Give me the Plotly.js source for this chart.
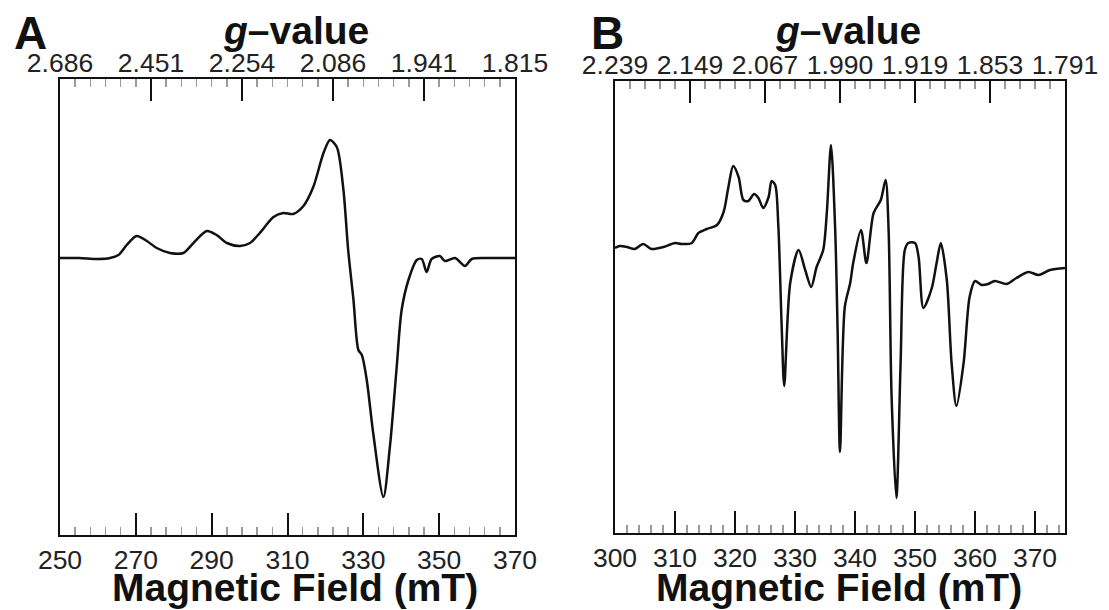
<!DOCTYPE html>
<html>
<head>
<meta charset="utf-8">
<script src="https://cdn.plot.ly/plotly-3.0.1.min.js"></script>
<style>html,body{margin:0;padding:0;background:#fff;}#chart{width:1109px;height:610px;}</style>
</head>
<body>
<div id="chart"></div>
<script>
// Panel A: field (mT) and EPR derivative intensity (arb. units)
const fieldA = [250,255,260,263.2,265.4,267.6,270.2,272.9,275.5,279,282.5,285.2,288.7,291.3,294,297.5,300.1,302.7,306.3,308.9,311.5,314.2,316.8,319.5,321.2,323,324.7,326.0,327.4,328.7,329.6,330.9,332.6,335.3,337.0,338.8,340.1,341.9,344.1,345.4,346.7,348,350.2,351.5,354.2,356.8,358.6,362,366,370];
const signalA = [0,0,-1,0,3,13,22,17,10,5,5,15,27,23,15,12,15,25,41,45,44,52,71,105,118,111,70,8,-42,-92,-97,-122,-175,-239,-189,-109,-52,-22,-2,-1,-14,-1,2,-3,0,-8,-1,0,0,0];

// Panel B
const fieldB = [300.0,300.8,302.0,303.3,304.7,306.1,308.1,310.0,311.1,312.8,313.9,315.3,317.0,318.1,318.9,319.7,320.6,321.4,322.2,323.2,323.9,324.7,325.6,326.1,326.7,327.2,327.8,328.2,329.2,330.6,331.7,332.7,333.6,334.7,335.3,336.0,336.7,337.1,337.5,338.3,339.2,339.7,341.0,341.9,343.1,344.3,345.1,345.6,346.1,346.9,347.6,348.3,348.9,350.0,350.6,351.4,352.8,353.6,354.3,355.3,356.1,356.9,358.1,359.1,360.0,361.1,362.2,363.3,365.3,366.9,368.9,370.6,372.5,375.0];
const signalB = [-1,1,0,-2,3,-2,0,4,3,4,14,18,22,35,60,81,70,47,46,53,49,39,50,66,62,24,-83,-139,-36,-3,-23,-40,-20,-3,34,102,17,-83,-205,-60,-36,-16,17,-16,34,47,67,17,-150,-251,-116,-3,4,4,-10,-61,-41,-16,4,-33,-116,-159,-116,-50,-34,-38,-37,-34,-37,-31,-25,-28,-23,-21];

// Tick labels
const gTickFieldA = [250,274,298,322,346,370];
const gTickTextA = ['2.686','2.451','2.254','2.086','1.941','1.815'];
const gTickFieldB = [300,312.5,325,337.5,350,362.5,375];
const gTickTextB = ['2.239','2.149','2.067','1.990','1.919','1.853','1.791'];

const W = 1109, H = 610;
const fx = p => p / W;
const fy = p => 1 - p / H;

const tickFont = {family:'Liberation Sans, Arial, sans-serif', size:26.5, color:'#222'};
const lineStyle = {color:'#111', width:2.5, shape:'spline', smoothing:0.8};

const traces = [
  {x: fieldA, y: signalA, xaxis:'x', yaxis:'y', mode:'lines', line: lineStyle, hoverinfo:'skip'},
  {x: [gTickFieldA[0]], y: [0], xaxis:'x2', yaxis:'y', mode:'lines', line:{width:0}, hoverinfo:'skip'},
  {x: fieldB, y: signalB, xaxis:'x3', yaxis:'y2', mode:'lines', line: lineStyle, hoverinfo:'skip'},
  {x: [gTickFieldB[0]], y: [0], xaxis:'x4', yaxis:'y2', mode:'lines', line:{width:0}, hoverinfo:'skip'}
];

function bottomAxis(domain, range, dtick, minorD, anchor) {
  return {
    domain: domain, range: range, anchor: anchor,
    tickmode:'linear', tick0: range[0], dtick: dtick,
    ticks:'inside', ticklen: 22, tickwidth: 2, tickcolor:'#111',
    minor: {tickmode:'linear', tick0: range[0], dtick: minorD, ticks:'inside', ticklen: 8, tickwidth: 1.5, tickcolor:'#9a9a9a'},
    showline: true, linecolor:'#111', linewidth: 2.2,
    showgrid: false, zeroline: false, tickfont: tickFont, fixedrange: true
  };
}
function topAxis(range, vals, text, minorD, overlay, anchor) {
  return {
    overlaying: overlay, side:'top', anchor: anchor, range: range,
    tickmode:'array', tickvals: vals, ticktext: text,
    ticks:'inside', ticklen: 22, tickwidth: 2, tickcolor:'#111',
    ticklabelstandoff: -6,
    minor: {tickmode:'linear', tick0: range[0], dtick: minorD, ticks:'inside', ticklen: 8, tickwidth: 1.5, tickcolor:'#9a9a9a'},
    showline: true, linecolor:'#111', linewidth: 2.2,
    showgrid: false, zeroline: false, tickfont: tickFont, fixedrange: true
  };
}
function yAxis(domain, range, anchor) {
  return {
    domain: domain, range: range, anchor: anchor,
    showticklabels:false, ticks:'', showgrid:false, zeroline:false,
    showline:true, mirror:true, linecolor:'#111', linewidth:2.2, fixedrange:true
  };
}

const titleFont = {family:'Liberation Sans, Arial, sans-serif', size:39, color:'#111'};
const letterFont = {family:'Liberation Sans, Arial, sans-serif', size:46, color:'#111'};

const layout = {
  width: W, height: H,
  margin: {l:0, r:0, t:0, b:0},
  paper_bgcolor:'#fff', plot_bgcolor:'#fff',
  showlegend:false,
  xaxis: bottomAxis([fx(60), fx(515)], [250,370], 20, 4, 'y'),
  xaxis2: topAxis([250,370], gTickFieldA, gTickTextA, 4, 'x', 'y'),
  yaxis: yAxis([fy(535), fy(79)], [-277, 179], 'x'),
  xaxis3: bottomAxis([fx(615), fx(1065)], [300,375], 10, 2, 'y2'),
  xaxis4: topAxis([300,375], gTickFieldB, gTickTextB, 2.5, 'x3', 'y2'),
  yaxis2: yAxis([fy(533), fy(81)], [-286, 166], 'x3'),
  annotations: [
    {text:'<b>A</b>', x: fx(30), y: fy(33), xref:'paper', yref:'paper', showarrow:false, font: letterFont, xanchor:'center', yanchor:'middle'},
    {text:'<b>B</b>', x: fx(607), y: fy(33), xref:'paper', yref:'paper', showarrow:false, font: letterFont, xanchor:'center', yanchor:'middle'},
    {text:'<b><i>g</i>–value</b>', x: fx(296), y: fy(30), xref:'paper', yref:'paper', showarrow:false, font: titleFont, xanchor:'center', yanchor:'middle'},
    {text:'<b><i>g</i>–value</b>', x: fx(848), y: fy(30), xref:'paper', yref:'paper', showarrow:false, font: titleFont, xanchor:'center', yanchor:'middle'},
    {text:'<b>Magnetic Field (mT)</b>', x: fx(295), y: fy(587), xref:'paper', yref:'paper', showarrow:false, font: titleFont, xanchor:'center', yanchor:'middle'},
    {text:'<b>Magnetic Field (mT)</b>', x: fx(839), y: fy(587), xref:'paper', yref:'paper', showarrow:false, font: titleFont, xanchor:'center', yanchor:'middle'}
  ]
};

Plotly.newPlot('chart', traces, layout, {displayModeBar:false, staticPlot:true});
</script>
</body>
</html>
